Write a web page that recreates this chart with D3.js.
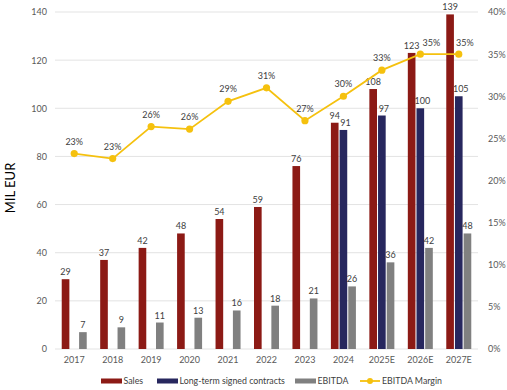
<!DOCTYPE html>
<html><head><meta charset="utf-8">
<script src="https://cdn.jsdelivr.net/npm/d3@7/dist/d3.min.js"></script>
<style>body{margin:0;background:#fff}svg{display:block}text{font-family:Lato,"Open Sans",sans-serif}</style>
</head><body>
<svg id="c" width="507" height="390"></svg>
<script>
const categories = ["2017","2018","2019","2020","2021","2022","2023","2024","2025E","2026E","2027E"];
const sales = [29,37,42,48,54,59,76,94,108,123,139];
const contracts = [null,null,null,null,null,null,null,91,97,100,105];
const ebitda = [7,9,11,13,16,18,21,26,36,42,48];
const margin = [23.2,22.6,26.4,26.1,29.4,31.0,27.1,30.0,33.1,35.0,35.0];
const leftTicks = [0,20,40,60,80,100,120,140];
const rightTicks = [0,5,10,15,20,25,30,35,40];
const seriesNames = ["Sales","Long-term signed contracts","EBITDA","EBITDA Margin"];
const colors = ["#8c1a15","#27275e","#808080","#f5c10e"];

const svg = d3.select("#c");
const L = 55, R = 478, T = 12, B = 349;
const x = d3.scaleBand().domain(categories).range([L, R]);
const y = d3.scaleLinear().domain([0,140]).range([B, T]);
const y2 = d3.scaleLinear().domain([0,40]).range([B, T]);
const sub = d3.scaleBand().domain([0,1,2]).range([-12.5, 12.5]).paddingInner(0.12);

// gridlines
svg.append("g").selectAll("line").data(leftTicks).join("line")
  .attr("x1", L).attr("x2", R).attr("y1", d=>y(d)).attr("y2", d=>y(d))
  .attr("stroke", "#e3e3e3").attr("stroke-width", 1);

// left axis
const ax = svg.append("g").attr("transform", `translate(${L},0)`)
  .call(d3.axisLeft(y).tickValues(leftTicks).tickSize(0).tickPadding(8));
ax.select(".domain").remove();
ax.selectAll("text").attr("fill","#595959").attr("font-size","9px");

// right axis
const ar = svg.append("g").attr("transform", `translate(${R},0)`)
  .call(d3.axisRight(y2).tickValues(rightTicks).tickSize(0).tickPadding(10).tickFormat(d=>d+"%"));
ar.select(".domain").remove();
ar.selectAll("text").attr("fill","#595959").attr("font-size","9px");

// x axis
const axb = svg.append("g").attr("transform", `translate(0,${B})`)
  .call(d3.axisBottom(x).tickSize(0).tickPadding(8));
axb.select(".domain").remove();
axb.selectAll("text").attr("fill","#595959").attr("font-size","9px");

// y title
svg.append("text").attr("transform","translate(15,188) rotate(-90)")
  .attr("text-anchor","middle").attr("font-size","13px").attr("fill","#000").text("MIL EUR");

// bars
const series = [sales, contracts, ebitda];
series.forEach((vals, si) => {
  const g = svg.append("g");
  const data = categories.map((c,i)=>({c, v: vals[i]})).filter(d=>d.v!=null);
  g.selectAll("rect").data(data).join("rect")
    .attr("x", d=>x(d.c)+x.bandwidth()/2+sub(si))
    .attr("width", sub.bandwidth())
    .attr("y", d=>y(d.v)).attr("height", d=>B-y(d.v))
    .attr("fill", colors[si]);
  g.selectAll("text").data(data).join("text")
    .attr("x", d=>x(d.c)+x.bandwidth()/2+sub(si)+sub.bandwidth()/2 + (si===1?2:0))
    .attr("y", d=>y(d.v)-4)
    .attr("text-anchor","middle").attr("font-size","9px").attr("fill","#404040")
    .text(d=>d.v);
});

// line
const pts = categories.map((c,i)=>({c, v: margin[i]}));
const cx = d=>x(d.c)+x.bandwidth()/2;
svg.append("path").datum(pts)
  .attr("d", d3.line().x(cx).y(d=>y2(d.v)))
  .attr("fill","none").attr("stroke",colors[3]).attr("stroke-width",1.8);
svg.append("g").selectAll("circle").data(pts).join("circle")
  .attr("cx", cx).attr("cy", d=>y2(d.v)).attr("r",3.6).attr("fill",colors[3]);
const labelShift = {"2026E": 11, "2027E": 6};
svg.append("g").selectAll("text").data(pts).join("text")
  .attr("x", d=>cx(d)+(labelShift[d.c]||0))
  .attr("y", d=>y2(d.v)-(labelShift[d.c]?8:9))
  .attr("text-anchor","middle").attr("font-size","9px").attr("fill","#404040")
  .text(d=>Math.round(d.v)+"%");

// legend
const ly = 381;
const lg = svg.append("g").attr("font-size","8.8px").attr("fill","#404040");
const items = [
  {x:101, w:21, t:seriesNames[0], c:colors[0]},
  {x:157, w:21, t:seriesNames[1], c:colors[1]},
  {x:295, w:21, t:seriesNames[2], c:colors[2]},
];
items.forEach(it=>{
  lg.append("rect").attr("x",it.x).attr("y",ly-2.5).attr("width",it.w).attr("height",5).attr("fill",it.c);
  lg.append("text").attr("x",it.x+it.w+1.5).attr("y",ly).attr("dy","0.35em").text(it.t);
});
lg.append("line").attr("x1",360).attr("x2",380).attr("y1",ly).attr("y2",ly).attr("stroke",colors[3]).attr("stroke-width",1.8);
lg.append("circle").attr("cx",370).attr("cy",ly).attr("r",3).attr("fill",colors[3]);
lg.append("text").attr("x",382).attr("y",ly).attr("dy","0.35em").text(seriesNames[3]);
</script>
</body></html>
